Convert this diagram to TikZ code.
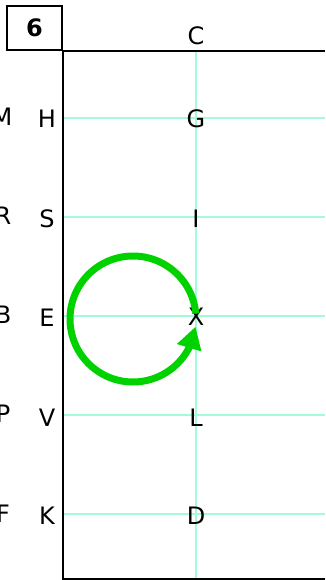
\documentclass[tikz,border=0pt]{standalone}
\usepackage{fontspec}
\setmainfont{DejaVu Sans}
\usetikzlibrary{arrows.meta,bending}
\definecolor{gridc}{RGB}{165,250,215}
\definecolor{loopc}{RGB}{0,210,0}
\tikzset{
  lbl/.style={font=\fontsize{24}{28}\selectfont, inner sep=0pt, anchor=center},
  gridline/.style={draw=gridc, line width=1.1pt},
  frame/.style={draw=black, line width=2.3pt},
}
\begin{document}
\begin{tikzpicture}[x=1pt,y=-1pt]
\useasboundingbox (0,0) rectangle (325,580);
% grid
\foreach \yy in {118,217,316,415,514}{
  \draw[gridline] (63,\yy) -- (325,\yy);
}
\draw[gridline] (196,51) -- (196,580);
% frame
\draw[frame] (325,51) -- (63,51) -- (63,579) -- (325,579);
% box 6
\node[draw=black, line width=1.7pt, minimum width=55pt, minimum height=44pt, inner sep=0pt,
      font=\fontsize{24}{28}\selectfont\bfseries] (six) at (34.5,28) {6};
% labels
\node[lbl] (C) at (196,36) {C};
\node[lbl] (M) at (2,117) {M};
\node[lbl] (H) at (47,119) {H};
\node[lbl] (G) at (196,119) {G};
\node[lbl] (R) at (3,216) {R};
\node[lbl] (S) at (47,219) {S};
\node[lbl] (I) at (196,219) {I};
\node[lbl] (B) at (3,315) {B};
\node[lbl] (E) at (47,318) {E};
\node[lbl] (X) at (196,317) {X};
\node[lbl] (P) at (3,414) {P};
\node[lbl] (V) at (47,418) {V};
\node[lbl] (L) at (196,418) {L};
\node[lbl] (F) at (3,514) {F};
\node[lbl] (K) at (47,516) {K};
\node[lbl] (D) at (196,516) {D};
% loop
\coordinate (cc) at (133,319);
\draw[loopc, line width=7pt, -{Triangle[length=22pt,width=24pt]}]
  ([shift={(-5:63)}]cc) arc[start angle=-5, end angle=-353, radius=63];
\end{tikzpicture}
\end{document}
